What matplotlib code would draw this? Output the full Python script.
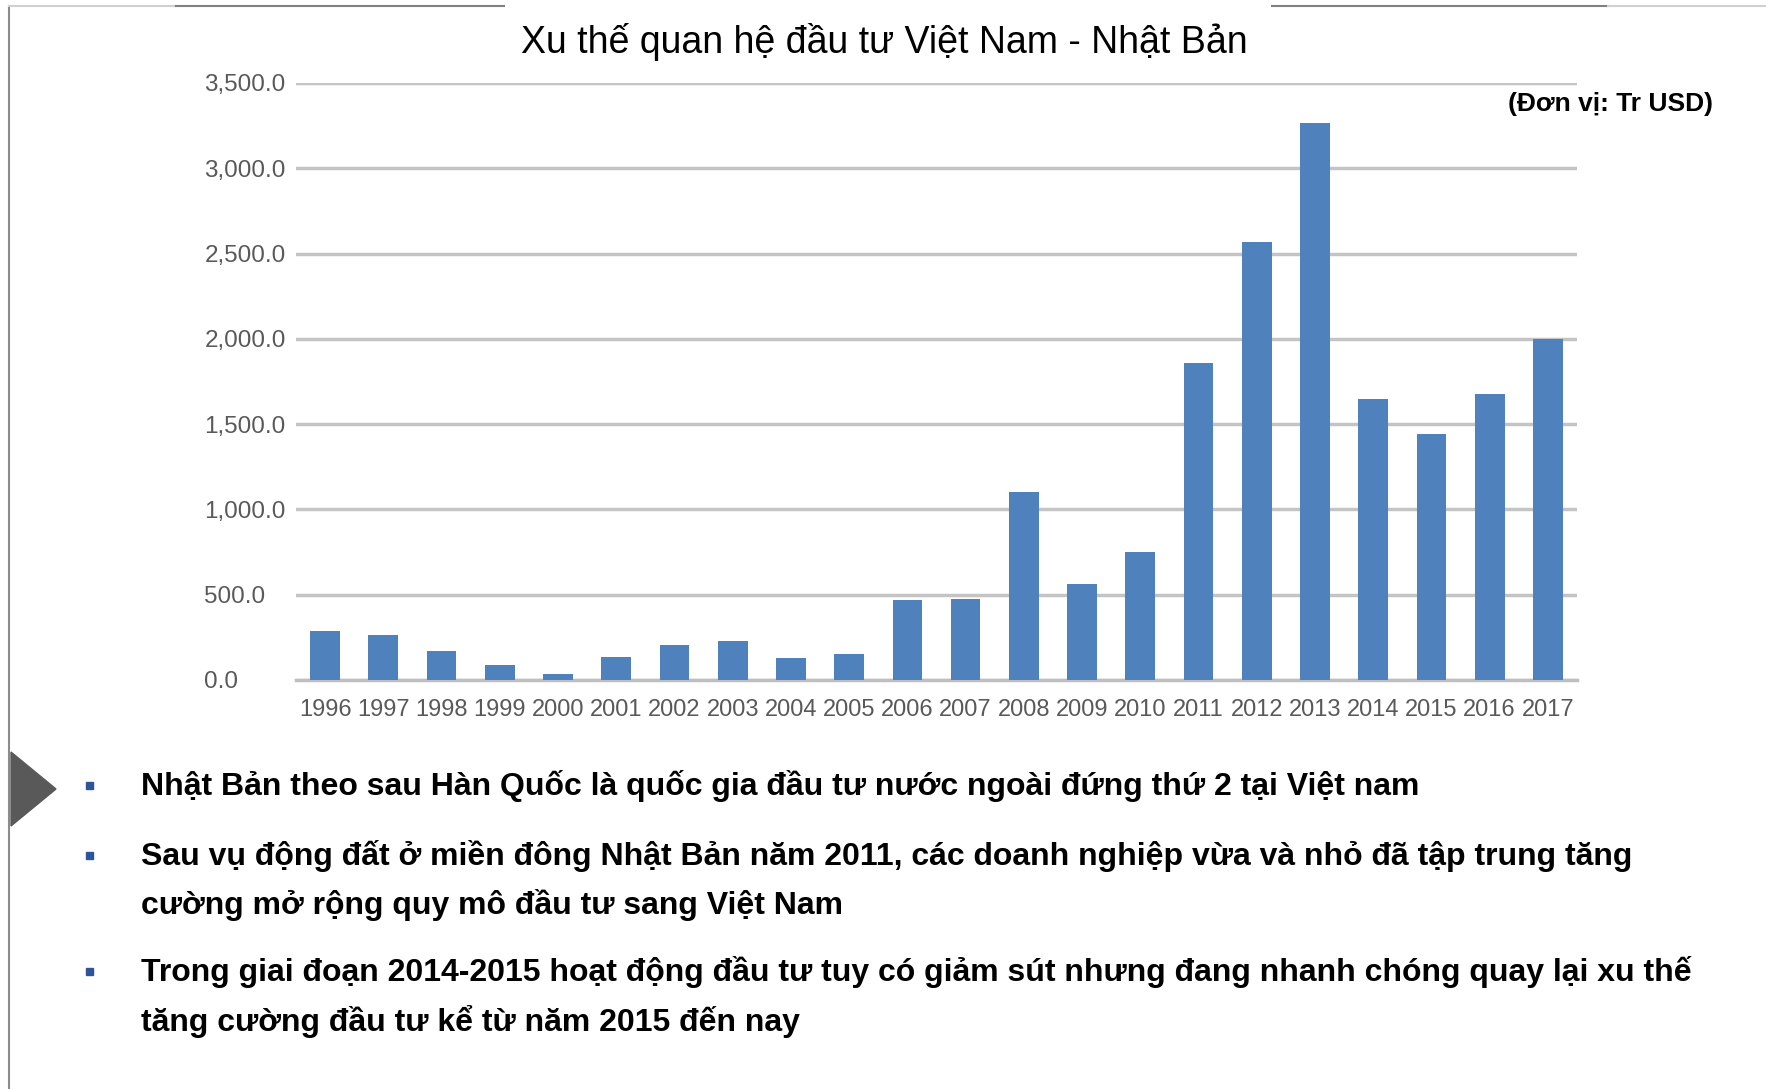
import numpy as np
import matplotlib
matplotlib.use('Agg')
import matplotlib.pyplot as plt
from matplotlib import font_manager
from matplotlib.lines import Line2D
from matplotlib.patches import Rectangle, Polygon

W, H = 1766, 1089

years = ['1996', '1997', '1998', '1999', '2000', '2001', '2002', '2003', '2004', '2005', '2006',
         '2007', '2008', '2009', '2010', '2011', '2012', '2013', '2014', '2015', '2016', '2017']
invest = [290, 262, 170, 86, 33, 136, 203, 230, 127, 150, 467,
          472, 1100, 562, 748, 1857, 2570, 3265, 1650, 1444, 1676, 2000]
yticks = [0, 500, 1000, 1500, 2000, 2500, 3000, 3500]

title = 'Xu thế quan hệ đầu tư Việt Nam - Nhật Bản'
unit = '(Đơn vị: Tr USD)'
bullets = [
    ['Nhật Bản theo sau Hàn Quốc là quốc gia đầu tư nước ngoài đứng thứ 2 tại Việt nam'],
    ['Sau vụ động đất ở miền đông Nhật Bản năm 2011, các doanh nghiệp vừa và nhỏ đã tập trung tăng',
     'cường mở rộng quy mô đầu tư sang Việt Nam'],
    ['Trong giai đoạn 2014-2015 hoạt động đầu tư tuy có giảm sút nhưng đang nhanh chóng quay lại xu thế',
     'tăng cường đầu tư kể từ năm 2015 đến nay'],
]

names = {f.name for f in font_manager.fontManager.ttflist}
narrow = 'Liberation Sans Narrow' if 'Liberation Sans Narrow' in names else 'Liberation Sans'
plt.rcParams['font.family'] = ['Liberation Sans', 'DejaVu Sans']


def fx(px):
    return px / W


def fy(py):
    return 1 - py / H


fig = plt.figure(figsize=(W / 100, H / 100), dpi=100)
fig.patch.set_facecolor('white')

# frame lines of the slide
fig.add_artist(Line2D([fx(9), fx(9)], [fy(6), fy(H)], color='#8c8c8c', lw=1.5))
fig.add_artist(Line2D([fx(9), fx(176)], [fy(6), fy(6)], color='#d0d0d0', lw=1.5))
fig.add_artist(Line2D([fx(176), fx(504)], [fy(6), fy(6)], color='#808080', lw=1.5))
fig.add_artist(Line2D([fx(1272), fx(1608)], [fy(6), fy(6)], color='#808080', lw=1.5))
fig.add_artist(Line2D([fx(1608), fx(W)], [fy(6), fy(6)], color='#d0d0d0', lw=1.5))

ax = fig.add_axes([fx(296), fy(680), fx(1577) - fx(296), fy(83) - fy(680)])
x = np.arange(len(years))
ax.bar(x, invest, width=0.51, color='#4f81bd', zorder=3)
ax.set_xlim(-0.5, len(years) - 0.5)
ax.set_ylim(0, 3500)
ax.set_yticks(yticks)
ax.set_yticklabels([f'{v:,.1f}' for v in yticks], color='#595959', fontsize=17.5, ha='left')
ax.set_xticks(x)
ax.set_xticklabels(years, color='#595959', fontsize=17, family=[narrow, 'DejaVu Sans'])
ax.tick_params(length=0)
ax.tick_params(axis='y', pad=66)  # labels are left aligned in the original
ax.tick_params(axis='x', pad=13.5)
ax.grid(axis='y', color='#c4c4c4', lw=2.5, zorder=0)
ax.set_axisbelow(True)
for s in ['top', 'right', 'left']:
    ax.spines[s].set_visible(False)
ax.spines['bottom'].set_color('#bfbfbf')
ax.spines['bottom'].set_linewidth(2.5)

fig.text(fx(884), fy(42), title, ha='center', va='center', fontsize=27, color='black')
fig.text(fx(1713), fy(104), unit, ha='right', va='center', fontsize=19, fontweight='bold', color='black')

# arrow marker on the left
fig.add_artist(Polygon([[fx(11), fy(752)], [fx(56), fy(789)], [fx(11), fy(826)]],
                       closed=True, color='#595959', transform=fig.transFigure))

line_y = [[786], [856, 905], [972, 1022]]
for lines, ys in zip(bullets, line_y):
    fig.add_artist(Rectangle((fx(86), fy(ys[0] + 3)), fx(7), 7 / H,
                             color='#2e5597', transform=fig.transFigure))
    for txt, yy in zip(lines, ys):
        fig.text(fx(141), fy(yy), txt, ha='left', va='center', fontsize=23,
                 fontweight='bold', color='black', family=[narrow, 'DejaVu Sans'])

fig.savefig('out.png', dpi=100, facecolor='white')
